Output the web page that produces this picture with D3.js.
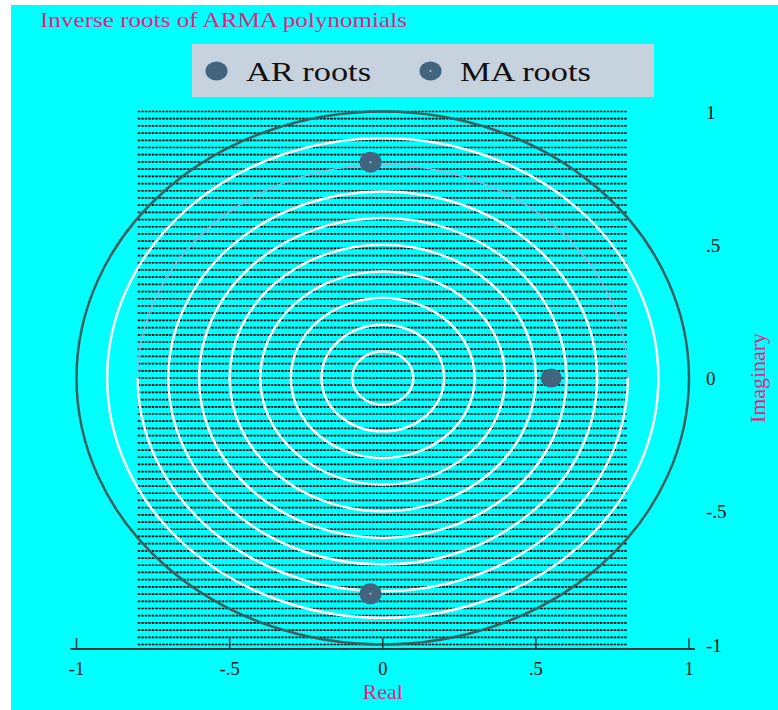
<!DOCTYPE html>
<html>
<head>
<meta charset="utf-8">
<script src="https://cdn.jsdelivr.net/npm/d3@7"></script>
<style>
  body { margin: 0; background: #fff; }
  svg { display: block; }
  text { font-family: "Liberation Serif", "Times New Roman", serif; }
</style>
</head>
<body>
<svg id="chart" width="778" height="710"></svg>
<script>
// values
const xTicks = [-1, -0.5, 0, 0.5, 1];
const xTickLabels = ['-1', '-.5', '0', '.5', '1'];
const yTicks = [-1, -0.5, 0, 0.5, 1];
const yTickLabels = ['-1', '-.5', '0', '.5', '1'];
const arRoots = [{ re: 0.55, im: 0.0 }];
const maRoots = [{ re: -0.04, im: 0.81 }, { re: -0.04, im: -0.81 }];
const gridRadii = [0.1, 0.2, 0.3, 0.4, 0.5, 0.6, 0.7, 0.9];
const halfRadius = 0.8;           // upper half pale, lower half white
const legendItems = ['AR roots', 'MA roots'];
const hatchCount = 75, hatchX = [-0.8, 0.8], hatchY = [1, -1];

const W = 778, H = 710;
const svg = d3.select('#chart');

const x = d3.scaleLinear().domain([-1, 1]).range([76.5, 689]);
const y = d3.scaleLinear().domain([-1, 1]).range([644.5, 111.5]);

svg.append('rect').attr('x', 11).attr('y', 5).attr('width', W - 11).attr('height', H - 5)
  .attr('fill', '#00ffff');

// title
svg.append('text').attr('x', 40).attr('y', 26.5)
  .attr('font-size', 22).attr('fill', '#e8227f')
  .attr('textLength', 367).attr('lengthAdjust', 'spacingAndGlyphs')
  .text('Inverse roots of ARMA polynomials');

// legend
const leg = svg.append('g');
leg.append('rect').attr('x', 192).attr('y', 44).attr('width', 462).attr('height', 53)
  .attr('fill', '#c6d2de');
const legX = [216.5, 430.5], legTextX = [246, 460], legLen = [125, 131];
legendItems.forEach((name, i) => {
  leg.append('ellipse').attr('cx', legX[i]).attr('cy', 71).attr('rx', 11).attr('ry', 9.5)
    .attr('fill', '#42647e');
  if (i === 1) leg.append('circle').attr('cx', legX[i]).attr('cy', 71).attr('r', 1)
    .attr('fill', '#b8c8d8');
  leg.append('text').attr('x', legTextX[i]).attr('y', 81)
    .attr('font-size', 27.5).attr('fill', '#111')
    .attr('textLength', legLen[i]).attr('lengthAdjust', 'spacingAndGlyphs')
    .text(name);
});

const plot = svg.append('g');

// hatch lines
const hy = d3.scaleLinear().domain([0, hatchCount - 1]).range(hatchY);
plot.append('g').selectAll('line').data(d3.range(hatchCount)).join('line')
  .attr('x1', x(hatchX[0])).attr('x2', x(hatchX[1]))
  .attr('y1', i => y(hy(i))).attr('y2', i => y(hy(i)))
  .attr('stroke', '#000').attr('stroke-width', 1.7)
  .attr('stroke-dasharray', '2.5,1');

const rx = r => x(r) - x(0), ry = r => y(0) - y(r);

// white grid circles
plot.append('g').selectAll('ellipse').data(gridRadii).join('ellipse')
  .attr('cx', x(0)).attr('cy', y(0))
  .attr('rx', rx).attr('ry', ry)
  .attr('fill', 'none').attr('stroke', '#fff').attr('stroke-width', 2.5);

// radius 0.8: pale upper arc, white lower arc
const arc = (r, from, to) => {
  const pts = d3.range(from, to + 0.001, Math.PI / 180)
    .map(t => [x(r * Math.cos(t)), y(r * Math.sin(t))]);
  return d3.line()(pts);
};
plot.append('path').attr('d', arc(halfRadius, 0, Math.PI))
  .attr('fill', 'none').attr('stroke', '#8fb8e0').attr('stroke-width', 1.6);
plot.append('path').attr('d', arc(halfRadius, Math.PI, 2 * Math.PI))
  .attr('fill', 'none').attr('stroke', '#fff').attr('stroke-width', 2.5);

// unit circle
plot.append('ellipse').attr('cx', x(0)).attr('cy', y(0))
  .attr('rx', rx(1)).attr('ry', ry(1))
  .attr('fill', 'none').attr('stroke', '#3f5e5e').attr('stroke-width', 2.5);

// roots
plot.append('g').selectAll('ellipse').data(arRoots).join('ellipse')
  .attr('cx', d => x(d.re)).attr('cy', d => y(d.im))
  .attr('rx', 10.5).attr('ry', 9.5).attr('fill', '#42647e');
const ma = plot.append('g').selectAll('g').data(maRoots).join('g')
  .attr('transform', d => `translate(${x(d.re)},${y(d.im)})`);
ma.append('ellipse').attr('rx', 11).attr('ry', 10.5).attr('fill', '#42647e');
ma.append('circle').attr('r', 1).attr('fill', '#b8c8d8');

// x axis
const axY = y(-1) + 4.5;
const ax = svg.append('g');
ax.append('line').attr('x1', x(-1) - 6).attr('x2', x(1) + 6)
  .attr('y1', axY).attr('y2', axY)
  .attr('stroke', '#1f3a3a').attr('stroke-width', 2);
ax.selectAll('line.tick').data(xTicks).join('line').attr('class', 'tick')
  .attr('x1', d => x(d)).attr('x2', d => x(d))
  .attr('y1', axY).attr('y2', axY - 11)
  .attr('stroke', '#1f3a3a').attr('stroke-width', 1.5);
ax.selectAll('text').data(xTicks).join('text')
  .attr('x', d => x(d)).attr('y', 675)
  .attr('text-anchor', 'middle').attr('font-size', 18.5).attr('fill', '#111')
  .text((d, i) => xTickLabels[i]);
svg.append('text').attr('x', x(0)).attr('y', 699)
  .attr('text-anchor', 'middle').attr('font-size', 22).attr('fill', '#e8227f')
  .text('Real');

// y labels on the right
svg.append('g').selectAll('text').data(yTicks).join('text')
  .attr('x', 706).attr('y', d => y(d) + 7)
  .attr('font-size', 19).attr('fill', '#111')
  .text((d, i) => yTickLabels[i]);
svg.append('text')
  .attr('transform', `translate(765,${y(0)}) rotate(-90)`)
  .attr('text-anchor', 'middle').attr('font-size', 21).attr('fill', '#e8227f')
  .attr('textLength', 90).attr('lengthAdjust', 'spacingAndGlyphs')
  .text('Imaginary');
</script>
</body>
</html>
